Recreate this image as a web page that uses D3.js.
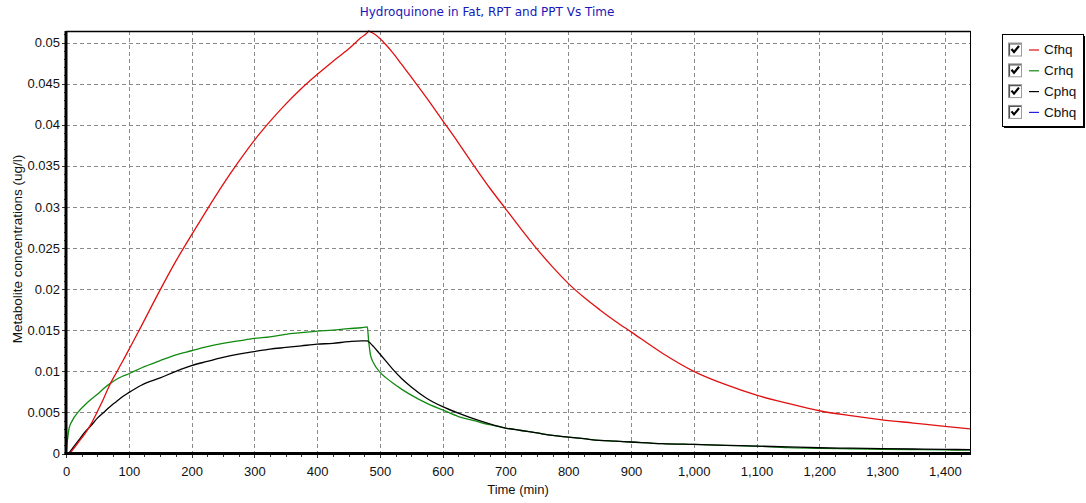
<!DOCTYPE html>
<html>
<head>
<meta charset="utf-8">
<script src="https://cdn.jsdelivr.net/npm/d3@7"></script>
<style>
  html, body { margin: 0; padding: 0; background: #fff; }
  svg { display: block; }
</style>
</head>
<body>
<svg id="chart" width="1086" height="503"></svg>
<script>
// Simulation output times (min)
const timeMin = [
  0, 5, 10, 20, 30, 40, 50, 60, 70, 80,
  90, 100, 120, 150, 175, 200, 225, 250, 275, 300,
  325, 350, 375, 400, 425, 450, 470, 480, 482, 485,
  490, 500, 510, 520, 535, 550, 575, 600, 625, 650,
  675, 700, 725, 750, 775, 800, 825, 850, 875, 900,
  950, 1000, 1050, 1100, 1150, 1200, 1250, 1300, 1350, 1400,
  1440
];

// Hydroquinone in fat (ug/l)
const cfhq = [
  0, 0, 0.0004, 0.0014, 0.0024, 0.0036, 0.0051, 0.0067, 0.0084, 0.0098,
  0.0112, 0.0126, 0.0155, 0.0199, 0.0234, 0.0266, 0.0297, 0.0327, 0.0355, 0.0381,
  0.0404, 0.0425, 0.0444, 0.0461, 0.0477, 0.0492, 0.0506, 0.0512, 0.0514, 0.0513,
  0.0511, 0.0505, 0.0497, 0.0488, 0.0473, 0.0458, 0.0432, 0.0405, 0.0378, 0.0350,
  0.0323, 0.0298, 0.0273, 0.0249, 0.0227, 0.0207, 0.0190, 0.0175, 0.0161, 0.0148,
  0.0122, 0.0100, 0.0084, 0.0071, 0.0061, 0.0052, 0.0046, 0.0041, 0.0037, 0.0033,
  0.0030
];

// Hydroquinone in richly perfused tissue
const crhq = [
  0, 0.0031, 0.0040, 0.0051, 0.0059, 0.0066, 0.0072, 0.0079, 0.0085, 0.0090,
  0.0094, 0.0097, 0.0104, 0.0113, 0.0120, 0.0125, 0.0130, 0.0134, 0.0137, 0.0140,
  0.0142, 0.0145, 0.0147, 0.0149, 0.0150, 0.0152, 0.0153, 0.0154, 0.0138, 0.0120,
  0.0110, 0.0099, 0.0092, 0.0086, 0.0078, 0.0071, 0.0061, 0.0053, 0.0045, 0.0040,
  0.0035, 0.0031, 0.0028, 0.0025, 0.0022, 0.0020, 0.0018, 0.0016, 0.0015, 0.0014,
  0.0012, 0.0011, 0.0010, 0.0009, 0.00072, 0.00063, 0.00058, 0.00052, 0.00047, 0.00043,
  0.00042
];

// Hydroquinone in poorly perfused tissue
const cphq = [
  0, 0.0001, 0.0006, 0.0016, 0.0026, 0.0034, 0.0043, 0.0050, 0.0057, 0.0063,
  0.0069, 0.0074, 0.0083, 0.0092, 0.0100, 0.0107, 0.0112, 0.0117, 0.0121, 0.0124,
  0.0127, 0.0129, 0.0131, 0.0133, 0.0134, 0.0136, 0.0137, 0.0137, 0.0136, 0.0134,
  0.0130, 0.0121, 0.0112, 0.0103, 0.0091, 0.0081, 0.0067, 0.0057, 0.0049, 0.0042,
  0.0036, 0.0031, 0.0028, 0.0025, 0.0022, 0.0020, 0.0018, 0.0016, 0.0015, 0.0014,
  0.0012, 0.0011, 0.0010, 0.0009, 0.0008, 0.0007, 0.00065, 0.0006, 0.00055, 0.0005,
  0.00047
];

// Hydroquinone in blood
const cbhq = [
  0, 0, 0.000001, 0.000003, 0.000005, 0.000007, 0.000009, 0.000011, 0.000013, 0.000015,
  0.000017, 0.000018, 0.000021, 0.000025, 0.000028, 0.00003, 0.000032, 0.000034, 0.000035, 0.000036,
  0.000037, 0.000038, 0.000039, 0.00004, 0.00004, 0.000041, 0.000041, 0.000042, 0.000042, 0.000041,
  0.00004, 0.000038, 0.000035, 0.000032, 0.000029, 0.000026, 0.000022, 0.000019, 0.000016, 0.000014,
  0.000012, 0.000011, 0.00001, 0.000009, 0.000008, 0.000007, 0.000006, 0.000006, 0.000005, 0.000005,
  0.000004, 0.000004, 0.000003, 0.000003, 0.000003, 0.000002, 0.000002, 0.000002, 0.000002, 0.000002,
  0.000001
];

const xTicks = [0, 100, 200, 300, 400, 500, 600, 700, 800, 900, 1000, 1100, 1200, 1300, 1400];
const xMinorStep = 25;
const yTicks = [0, 0.005, 0.01, 0.015, 0.02, 0.025, 0.03, 0.035, 0.04, 0.045, 0.05];
const yTickLabels = ["0", "0.005", "0.01", "0.015", "0.02", "0.025", "0.03", "0.035", "0.04", "0.045", "0.05"];
const yMinorStep = 0.001;

const seriesNames = ["Cfhq", "Crhq", "Cphq", "Cbhq"];
const seriesValues = [cfhq, crhq, cphq, cbhq];
const seriesColors = ["#e01010", "#108a10", "#000000", "#2020e0"];

const titleText = "Hydroquinone in Fat, RPT and PPT Vs Time";
const xTitle = "Time (min)";
const yTitle = "Metabolite concentrations (ug/l)";

// ---- layout ----
const plot = { left: 66, right: 970, top: 31, bottom: 453.5 };
const tickFont = "Liberation Sans, Arial, sans-serif";

const svg = d3.select("#chart");

const x = d3.scaleLinear().domain([0, 1440]).range([plot.left, plot.right]);
const y = d3.scaleLinear().domain([0, d3.max(cfhq)]).range([plot.bottom, plot.top]);

// grid
const grid = svg.append("g")
  .attr("stroke", "#8a8a8a")
  .attr("stroke-width", 1)
  .attr("stroke-dasharray", "4,3")
  .attr("shape-rendering", "crispEdges");

grid.selectAll("line.v").data(xTicks.filter(d => d > 0)).join("line")
  .attr("class", "v")
  .attr("x1", d => Math.round(x(d)) + 0.5).attr("x2", d => Math.round(x(d)) + 0.5)
  .attr("y1", plot.top).attr("y2", plot.bottom);

grid.selectAll("line.h").data(yTicks.filter(d => d > 0)).join("line")
  .attr("class", "h")
  .attr("y1", d => Math.round(y(d)) + 0.5).attr("y2", d => Math.round(y(d)) + 0.5)
  .attr("x1", plot.left).attr("x2", plot.right);

// series lines
const line = d3.line()
  .x((d, i) => x(timeMin[i]))
  .y(d => y(d))
  .curve(d3.curveMonotoneX);

const drawOrder = [1, 2, 0, 3];
svg.append("g").selectAll("path").data(drawOrder).join("path")
  .attr("d", k => line(seriesValues[k]))
  .attr("fill", "none")
  .attr("stroke", k => seriesColors[k])
  .attr("stroke-width", 1.3)
  .attr("stroke-linejoin", "round");

// frame (top and right)
svg.append("line")
  .attr("x1", plot.left).attr("x2", plot.right + 0.5)
  .attr("y1", plot.top + 0.5).attr("y2", plot.top + 0.5)
  .attr("stroke", "#000").attr("stroke-width", 1.5);
svg.append("line")
  .attr("x1", plot.right + 0.5).attr("x2", plot.right + 0.5)
  .attr("y1", plot.top).attr("y2", plot.bottom)
  .attr("stroke", "#000").attr("stroke-width", 1);

// minor tick values
const xMinor = d3.range(0, 1440 + 0.1, xMinorStep).filter(v => v % 100 !== 0);
const yMinor = d3.range(0, 0.0514, yMinorStep).map(v => +v.toFixed(3)).filter(v => Math.round(v * 1000) % 5 !== 0);

// x axis
const xAxis = svg.append("g")
  .attr("transform", `translate(0,${plot.bottom})`)
  .call(d3.axisBottom(x).tickValues(xTicks).tickSize(4).tickPadding(9).tickSizeOuter(0)
    .tickFormat(d3.format(",")));
svg.append("g")
  .attr("transform", `translate(0,${plot.bottom})`)
  .call(d3.axisBottom(x).tickValues(xMinor).tickSize(3).tickFormat("").tickSizeOuter(0))
  .call(g => g.select(".domain").remove());

// y axis
const yAxis = svg.append("g")
  .attr("transform", `translate(${plot.left},0)`)
  .call(d3.axisLeft(y).tickValues(yTicks).tickSize(4).tickPadding(2).tickSizeOuter(0)
    .tickFormat((d, i) => yTickLabels[i]));
svg.append("g")
  .attr("transform", `translate(${plot.left},0)`)
  .call(d3.axisLeft(y).tickValues(yMinor).tickSize(2).tickFormat("").tickSizeOuter(0))
  .call(g => g.select(".domain").remove());

[xAxis, yAxis].forEach(g => {
  g.select(".domain").remove();
  g.selectAll("text").attr("font-family", tickFont).attr("font-size", 13).attr("fill", "#111");
});
svg.selectAll(".tick line").attr("stroke", "#333").attr("shape-rendering", "crispEdges");

// thick axis lines
svg.append("line")
  .attr("x1", plot.left).attr("x2", plot.left)
  .attr("y1", plot.top).attr("y2", plot.bottom + 1.5)
  .attr("stroke", "#000").attr("stroke-width", 3);
svg.append("line")
  .attr("x1", plot.left - 1.5).attr("x2", plot.right + 1)
  .attr("y1", plot.bottom).attr("y2", plot.bottom)
  .attr("stroke", "#000").attr("stroke-width", 3);

// titles
svg.append("text")
  .attr("x", 487).attr("y", 16)
  .attr("text-anchor", "middle")
  .attr("font-family", "DejaVu Sans, Verdana, sans-serif")
  .attr("font-size", 12)
  .attr("fill", "#1818b8")
  .text(titleText);

svg.append("text")
  .attr("x", (plot.left + plot.right) / 2).attr("y", 494)
  .attr("text-anchor", "middle")
  .attr("font-family", tickFont)
  .attr("font-size", 13)
  .attr("fill", "#111")
  .text(xTitle);

svg.append("text")
  .attr("transform", "translate(22,249) rotate(-90)")
  .attr("text-anchor", "middle")
  .attr("font-family", tickFont)
  .attr("font-size", 13.5)
  .attr("fill", "#111")
  .text(yTitle);

// legend
const lg = svg.append("g").attr("transform", "translate(1002,34)");
const lgW = 81, lgH = 92;
lg.append("rect").attr("x", 2).attr("y", 2).attr("width", lgW).attr("height", lgH).attr("fill", "#000");
lg.append("rect").attr("x", 0.5).attr("y", 0.5).attr("width", lgW).attr("height", lgH)
  .attr("fill", "#fff").attr("stroke", "#000").attr("stroke-width", 1);

const rows = lg.selectAll("g.row").data(seriesNames).join("g")
  .attr("class", "row")
  .attr("transform", (d, i) => `translate(0,${15.5 + i * 20.8})`);

// checkbox
rows.append("rect").attr("x", 6.5).attr("y", -6.5).attr("width", 13).attr("height", 13)
  .attr("fill", "#fff").attr("stroke", "#9a9a9a");
rows.append("path").attr("d", "M7.5,6 V-5.5 H19").attr("fill", "none").attr("stroke", "#555").attr("stroke-width", 1.2);
rows.append("path").attr("d", "M9.5,-0.5 L12,2.5 L17,-3.5")
  .attr("fill", "none").attr("stroke", "#000").attr("stroke-width", 2.2);

rows.append("line").attr("x1", 27).attr("x2", 37).attr("y1", 0.5).attr("y2", 0.5)
  .attr("stroke", (d, i) => seriesColors[i]).attr("stroke-width", 1.2);
rows.append("text").attr("x", 42).attr("y", 0).attr("dy", "0.35em")
  .attr("font-family", tickFont).attr("font-size", 13.5).attr("fill", "#111")
  .text(d => d);
</script>
</body>
</html>
